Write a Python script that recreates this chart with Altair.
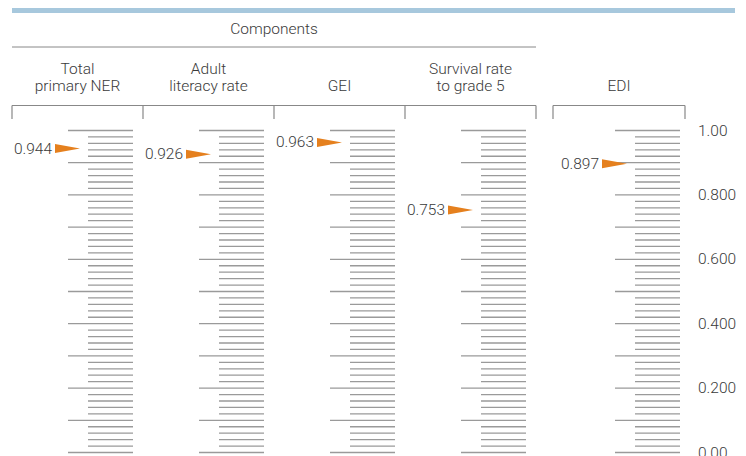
import altair as alt
import pandas as pd
import numpy as np

# ---------------- data ----------------
group_title = "Components"
header_line1 = ["Total", "Adult", "", "Survival rate", ""]
header_line2 = ["primary NER", "literacy rate", "GEI", "to grade 5", "EDI"]
values = [0.944, 0.926, 0.963, 0.753, 0.897]
value_labels = ["0.944", "0.926", "0.963", "0.753", "0.897"]
axis_values = [1.0, 0.8, 0.6, 0.4, 0.2, 0.0]
axis_labels = ["1.00", "0.800", "0.600", "0.400", "0.200", "0.00"]
major_step = 0.1
minor_step = 0.02

# ---------------- layout (chart pixels) ----------------
W, H = 730, 448
PANEL_W = 131
comp_left = [4 + PANEL_W * i for i in range(4)]
comp_right = comp_left[-1] + PANEL_W
edi_left, edi_right = 545, 677
origins = comp_left + [edi_left + 6]
centers = [l + PANEL_W / 2 for l in comp_left] + [(edi_left + edi_right) / 2]
LONG_X0, MINOR_X0, TICK_X1 = 56, 76, 121
ARROW_C, LABEL_R = 55.5, 40
AXIS_LABEL_X = 690

FONT = "Roboto"
FS = 15.5
FW = 300
TXT = "#3a3a3a"
GRAY = "#9a9a9a"
ORANGE = "#E5801E"
BLUE = "#A7C8DD"

xs = alt.Scale(domain=[0, W], range=[0, W], nice=False, zero=False)
ys = alt.Scale(domain=[0, 1], range=[444.5, 122.5], nice=False, zero=False)

# ticks
tick_vals = np.round(np.arange(0, 1 + 1e-9, minor_step), 2)
rows = []
for o in origins:
    for v in tick_vals:
        is_long = abs(v / major_step - round(v / major_step)) < 1e-6
        rows.append({"x": o + (LONG_X0 if is_long else MINOR_X0), "x2": o + TICK_X1,
                     "v": float(v), "kind": "long" if is_long else "minor"})
ticks_df = pd.DataFrame(rows)

ticks = alt.Chart(ticks_df).mark_rule(strokeWidth=1.3, color=GRAY).encode(
    x=alt.X("x:Q", scale=xs, axis=None),
    x2="x2:Q",
    y=alt.Y("v:Q", scale=ys, axis=None),
)

val_df = pd.DataFrame({
    "v": values,
    "lab": value_labels,
    "ax": [o + ARROW_C for o in origins],
    "lx": [o + LABEL_R for o in origins],
})

arrows = alt.Chart(val_df).mark_point(
    shape="M-1,-0.36L1,0L-1,0.36Z", size=625, filled=True, opacity=1,
    color=ORANGE, strokeWidth=0
).encode(
    x=alt.X("ax:Q", scale=xs, axis=None),
    y=alt.Y("v:Q", scale=ys, axis=None),
)

txt_kw = dict(font=FONT, fontSize=FS, fontWeight=FW, color=TXT)

vlabels = alt.Chart(val_df).mark_text(align="right", baseline="middle", **txt_kw).encode(
    x=alt.X("lx:Q", scale=xs, axis=None),
    y=alt.Y("v:Q", scale=ys, axis=None),
    text="lab:N",
)

axis_df = pd.DataFrame({"v": axis_values, "lab": axis_labels, "x": [AXIS_LABEL_X] * len(axis_values)})
axlabels = alt.Chart(axis_df).mark_text(align="left", baseline="middle", **txt_kw).encode(
    x=alt.X("x:Q", scale=xs, axis=None),
    y=alt.Y("v:Q", scale=ys, axis=None),
    text="lab:N",
)

# headers
hdr_df = pd.DataFrame({"cx": centers, "l1": header_line1, "l2": header_line2})
hdr1 = alt.Chart(hdr_df).mark_text(align="center", baseline="alphabetic", **txt_kw).encode(
    x=alt.X("cx:Q", scale=xs, axis=None), y=alt.value(66), text="l1:N")
hdr2 = alt.Chart(hdr_df).mark_text(align="center", baseline="alphabetic", **txt_kw).encode(
    x=alt.X("cx:Q", scale=xs, axis=None), y=alt.value(83), text="l2:N")

title_df = pd.DataFrame({"cx": [(comp_left[0] + comp_right) / 2], "t": [group_title]})
title = alt.Chart(title_df).mark_text(align="center", baseline="alphabetic", **txt_kw).encode(
    x=alt.X("cx:Q", scale=xs, axis=None), y=alt.value(26), text="t:N")

one = pd.DataFrame({"a": [0]})
blue_bar = alt.Chart(one).mark_rule(color=BLUE, strokeWidth=5).encode(
    x=alt.value(4), x2=alt.value(727), y=alt.value(2.5))
title_line = alt.Chart(one).mark_rule(color="#888888", strokeWidth=1).encode(
    x=alt.value(comp_left[0]), x2=alt.value(comp_right), y=alt.value(39))

# brackets
br_h = pd.DataFrame({"x": [comp_left[0], edi_left], "x2": [comp_right, edi_right]})
brackets_h = alt.Chart(br_h).mark_rule(color="#888888", strokeWidth=1.2).encode(
    x=alt.X("x:Q", scale=xs, axis=None), x2="x2:Q", y=alt.value(97.5))
br_v = pd.DataFrame({"x": comp_left + [comp_right, edi_left, edi_right]})
brackets_v = alt.Chart(br_v).mark_rule(color="#888888", strokeWidth=1.2).encode(
    x=alt.X("x:Q", scale=xs, axis=None), y=alt.value(97.5), y2=alt.value(111))

chart = alt.layer(
    blue_bar, title_line, title, hdr1, hdr2, brackets_h, brackets_v,
    ticks, arrows, vlabels, axlabels
).properties(
    width=W, height=H,
    autosize=alt.AutoSizeParams(type="none"),
    padding=0,
).configure_view(stroke=None)

chart.save("out.html", embed_options={"renderer": "svg", "actions": False})
